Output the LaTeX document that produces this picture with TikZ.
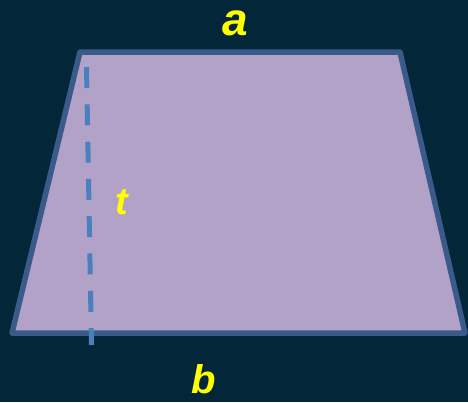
\documentclass[tikz,border=0pt]{standalone}
\usepackage{fontspec}
\setmainfont{Liberation Sans}
\usetikzlibrary{calc}

\definecolor{bgnavy}{RGB}{3,38,56}
\definecolor{trapfill}{RGB}{179,162,200}
\definecolor{trapedge}{RGB}{58,90,138}
\definecolor{heightblue}{RGB}{72,128,192}
\definecolor{lblyellow}{RGB}{255,255,0}

\begin{document}
\begin{tikzpicture}[
  x=1pt,
  y=-1pt,
  trap/.style={fill=trapfill, draw=trapedge, line width=5.5pt, line join=round},
  hgt/.style={draw=heightblue, line width=5pt, dash pattern=on 21pt off 16.3pt},
  lbl/.style={text=lblyellow, inner sep=0pt, font=\bfseries\itshape\fontsize{#1}{#1}\selectfont},
  lbl/.default=40
]
  \fill[bgnavy] (0,0) rectangle (468,402);
  \useasboundingbox (0,0) rectangle (468,402);

  \coordinate (tl) at (80,52);
  \coordinate (tr) at (400,52);
  \coordinate (br) at (465,333);
  \coordinate (bl) at (12,333);
  \draw[trap] (tl) -- (tr) -- (br) -- (bl) -- cycle;

  \coordinate (hTop) at (86.5,67);
  \coordinate (hBot) at (91.5,345);
  \draw[hgt] (hTop) -- (hBot);

  \node[lbl=46] (la) at (235,23) {a};
  \node[lbl=40] (lb) at (204,379) {b};
  \node[lbl=38] (lt) at (122,202) {t};
\end{tikzpicture}
\end{document}
